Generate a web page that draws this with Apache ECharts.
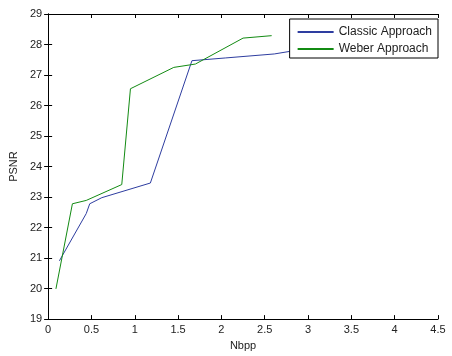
<!DOCTYPE html>
<html>
<head>
<meta charset="utf-8">
<script src="https://cdn.jsdelivr.net/npm/echarts@6/dist/echarts.min.js"></script>
<style>
  html, body { margin: 0; padding: 0; background: #fff; }
  #chart { width: 452px; height: 356px; }
</style>
</head>
<body>
<div id="chart"></div>
<script>
const classicX = [0.13, 0.44, 0.48, 0.62, 1.18, 1.66, 2.05, 2.61, 2.95];
const classicY = [20.91, 22.46, 22.78, 22.98, 23.46, 27.47, 27.56, 27.69, 27.85];
const weberX = [0.09, 0.28, 0.44, 0.85, 0.95, 1.45, 1.70, 2.25, 2.58];
const weberY = [19.99, 22.78, 22.89, 23.41, 26.55, 27.25, 27.36, 28.21, 28.29];
const xTicks = [0, 0.5, 1, 1.5, 2, 2.5, 3, 3.5, 4, 4.5];
const yTicks = [19, 20, 21, 22, 23, 24, 25, 26, 27, 28, 29];

const pairs = (xs, ys) => xs.map((x, i) => [x, ys[i]]);

const chart = echarts.init(document.getElementById("chart"));

const axisText = { color: "#222", fontSize: 11, fontFamily: "Liberation Sans, Arial, sans-serif" };
const boxLine = { show: true, lineStyle: { color: "#000", width: 1 } };
const tickIn = { show: true, inside: true, length: 4, lineStyle: { color: "#000" } };

const option = {
  animation: false,
  backgroundColor: "#fff",
  grid: { left: 48, right: 14, top: 14, bottom: 35 },
  legend: {
    orient: "vertical",
    right: 14,
    top: 19,
    padding: [7, 6, 3, 8],
    itemGap: 5,
    itemWidth: 36,
    itemHeight: 2,
    icon: "rect",
    backgroundColor: "#fff",
    borderColor: "#000",
    borderWidth: 1,
    borderRadius: 0,
    textStyle: { color: "#222", fontSize: 12, fontFamily: "Liberation Sans, Arial, sans-serif" },
    data: ["Classic Approach", "Weber Approach"]
  },
  xAxis: [
    {
      type: "value",
      min: xTicks[0],
      max: xTicks[xTicks.length - 1],
      interval: 0.5,
      name: "Nbpp",
      nameLocation: "middle",
      nameGap: 20,
      nameTextStyle: axisText,
      axisLine: boxLine,
      axisTick: tickIn,
      axisLabel: { ...axisText, margin: 5 },
      splitLine: { show: false }
    },
    {
      type: "value",
      position: "top",
      min: xTicks[0],
      max: xTicks[xTicks.length - 1],
      interval: 0.5,
      axisLine: boxLine,
      axisTick: tickIn,
      axisLabel: { show: false },
      splitLine: { show: false }
    }
  ],
  yAxis: [
    {
      type: "value",
      min: yTicks[0],
      max: yTicks[yTicks.length - 1],
      interval: 1,
      name: "PSNR",
      nameLocation: "middle",
      nameGap: 27,
      nameTextStyle: axisText,
      axisLine: boxLine,
      axisTick: tickIn,
      axisLabel: { ...axisText, margin: 6 },
      splitLine: { show: false }
    },
    {
      type: "value",
      position: "right",
      min: yTicks[0],
      max: yTicks[yTicks.length - 1],
      interval: 1,
      axisLine: boxLine,
      axisTick: tickIn,
      axisLabel: { show: false },
      splitLine: { show: false }
    }
  ],
  series: [
    {
      name: "Classic Approach",
      type: "line",
      data: pairs(classicX, classicY),
      showSymbol: false,
      color: "#2E3DA0",
      lineStyle: { width: 1, color: "#2E3DA0" }
    },
    {
      name: "Weber Approach",
      type: "line",
      data: pairs(weberX, weberY),
      showSymbol: false,
      color: "#138B13",
      lineStyle: { width: 1, color: "#138B13" }
    }
  ]
};

chart.setOption(option);
</script>
</body>
</html>
